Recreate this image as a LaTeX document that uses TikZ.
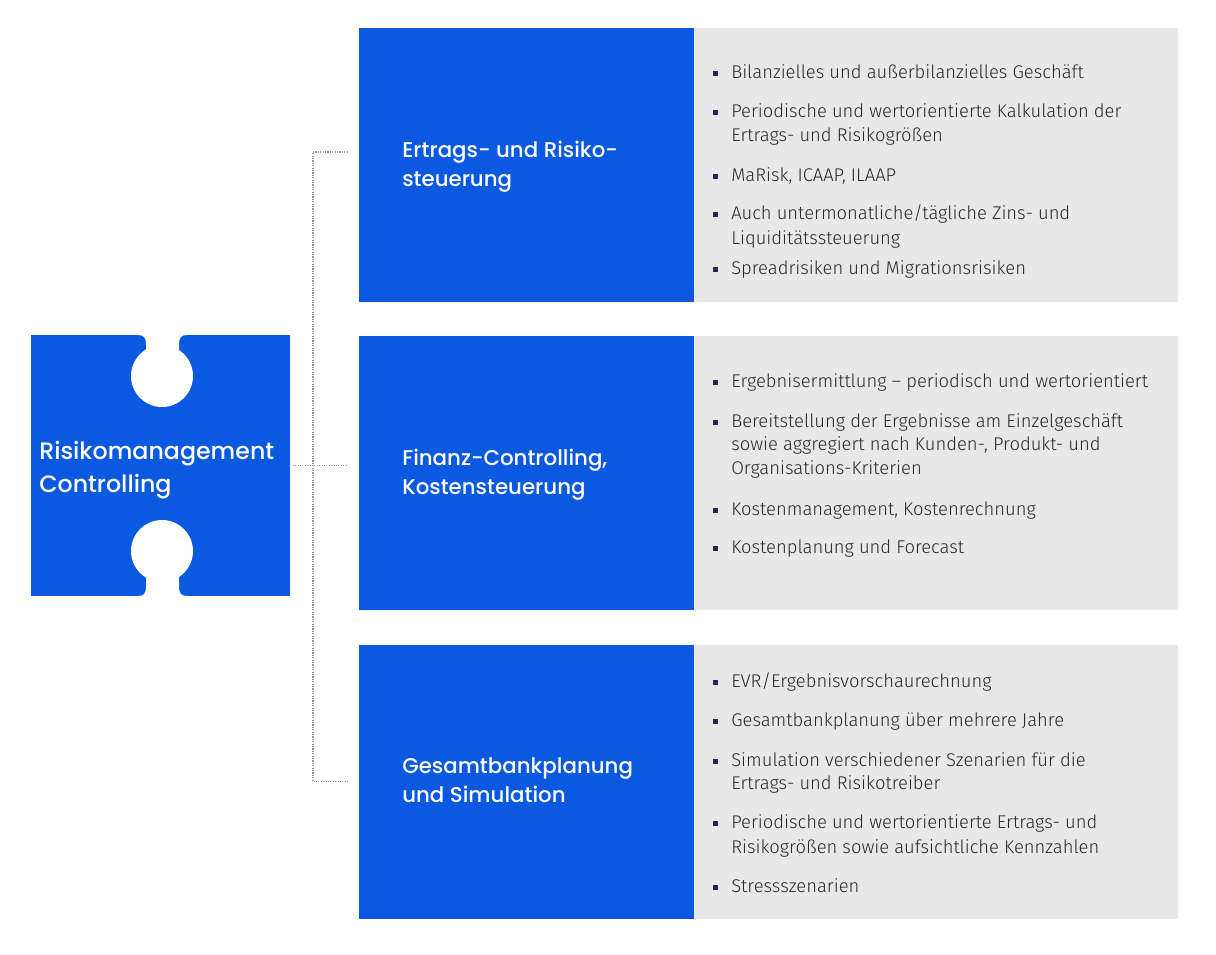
\documentclass[tikz,border=0pt]{standalone}
\usepackage{fontspec}
\setmainfont{Fira Sans Light}
\newfontfamily\titlefont{Poppins Medium}
\usetikzlibrary{calc}
\definecolor{cblue}{RGB}{10,89,224}
\definecolor{cgray}{RGB}{232,232,232}
\definecolor{ctext}{RGB}{40,40,44}
\definecolor{cbullet}{RGB}{30,38,90}
\definecolor{cline}{RGB}{150,150,150}
\tikzset{
  bluebox/.style={fill=cblue, draw=none, inner sep=0, minimum width=335*0.75pt, minimum height=274*0.75pt},
  graybox/.style={fill=cgray, draw=none, inner sep=0, minimum width=484*0.75pt, minimum height=274*0.75pt},
  ttl/.style={anchor=base west, inner sep=0, text=white, font=\titlefont\fontsize{16}{20}\selectfont},
  ptxt/.style={anchor=base west, inner sep=0, text=white, font=\titlefont\fontsize{17.8}{22}\selectfont},
  itm/.style={anchor=base west, inner sep=0, text=ctext, font=\fontsize{13.8}{18}\selectfont},
  bul/.style={fill=cbullet, draw=none, inner sep=0, minimum size=5*0.75pt},
  conn/.style={draw=cline, densely dotted, line width=0.8pt},
  hole/.style={fill=white, draw=none}
}
\begin{document}
\begin{tikzpicture}[x=0.75pt,y=-0.75pt]
\useasboundingbox (0,0) rectangle (1216,954);
% puzzle piece
\node[fill=cblue, inner sep=0, minimum width=259*0.75pt, minimum height=261*0.75pt] (puz) at (160,465.5) {};
\fill[hole] (162,376) circle[radius=31];
\fill[hole] (136,333) -- (138,335) .. controls (144,335) and (146,338) .. (146,344) -- (146,365) -- (179,365) -- (179,344) .. controls (179,338) and (181,335) .. (187,335) -- (189,333) -- cycle;
\fill[hole] (162,551) circle[radius=31];
\fill[hole] (136,598) -- (138,596) .. controls (144,596) and (146,593) .. (146,587) -- (146,565) -- (179,565) -- (179,587) .. controls (179,593) and (181,596) .. (187,596) -- (189,598) -- cycle;
\node[ptxt] (pt1) at (39,459) {Risikomanagement};
\node[ptxt] (pt2) at (39,492) {Controlling};
% boxes
\node[bluebox] (b1) at (526.5,165) {};
\node[graybox] (g1) at (936,165) {};
\node[bluebox] (b2) at (526.5,473) {};
\node[graybox] (g2) at (936,473) {};
\node[bluebox] (b3) at (526.5,781.5) {};
\node[graybox] (g3) at (936,781.5) {};
% connectors
\coordinate (e1) at ($(b1.west)+(-11,-13)$);
\coordinate (e3) at ($(b3.west)+(-11,0)$);
\coordinate (spine) at (313,465);
\draw[conn] (e1) -- (e1 -| spine) -- (e3 -| spine) -- (e3);
\draw[conn] ($(puz.east)+(3,0)$) -- ($(puz.east -| b2.west)+(-11,0)$);
% titles
\node[ttl] (t1a) at (402,157) {Ertrags- und Risiko-};
\node[ttl] (t1b) at (402,186) {steuerung};
\node[ttl] (t2a) at (402,465) {Finanz-Controlling,};
\node[ttl] (t2b) at (402,494) {Kostensteuerung};
\node[ttl] (t3a) at (402,773) {Gesamtbankplanung};
\node[ttl] (t3b) at (402,802) {und Simulation};
% items box 1
\foreach \y in {78,117,181,219,274} \node[bul] at (715.5,\y-4.5) {};
\node[itm] at (731,78) {Bilanzielles und außerbilanzielles Geschäft};
\node[itm] at (731,117) {Periodische und wertorientierte Kalkulation der};
\node[itm] at (731,141) {Ertrags- und Risikogrößen};
\node[itm] at (731,181) {MaRisk, ICAAP, ILAAP};
\node[itm] at (731,219) {Auch untermonatliche/tägliche Zins- und};
\node[itm] at (731,244) {Liquiditätssteuerung};
\node[itm] at (731,274) {Spreadrisiken und Migrationsrisiken};
% items box 2
\foreach \y in {387,427,515,553} \node[bul] at (715.5,\y-4.5) {};
\node[itm] at (731,387) {Ergebnisermittlung – periodisch und wertorientiert};
\node[itm] at (731,427) {Bereitstellung der Ergebnisse am Einzelgeschäft};
\node[itm] at (731,450) {sowie aggregiert nach Kunden-, Produkt- und};
\node[itm] at (731,474) {Organisations-Kriterien};
\node[itm] at (731,515) {Kostenmanagement, Kostenrechnung};
\node[itm] at (731,553) {Kostenplanung und Forecast};
% items box 3
\foreach \y in {687,726,766,828,892} \node[bul] at (715.5,\y-4.5) {};
\node[itm] at (731,687) {EVR/Ergebnisvorschaurechnung};
\node[itm] at (731,726) {Gesamtbankplanung über mehrere Jahre};
\node[itm] at (731,766) {Simulation verschiedener Szenarien für die};
\node[itm] at (731,789) {Ertrags- und Risikotreiber};
\node[itm] at (731,828) {Periodische und wertorientierte Ertrags- und};
\node[itm] at (731,853) {Risikogrößen sowie aufsichtliche Kennzahlen};
\node[itm] at (731,892) {Stressszenarien};
\end{tikzpicture}
\end{document}
